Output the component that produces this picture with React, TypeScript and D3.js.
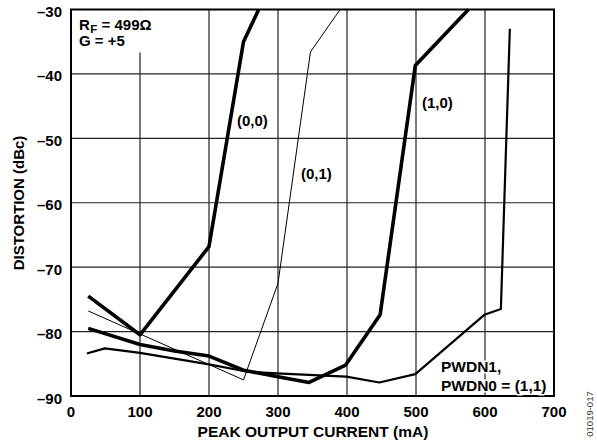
import { useEffect, useRef } from 'react';
import * as d3 from 'd3';

// peak output current (mA) / distortion (dBc) for each PWDN1,PWDN0 setting
const current00 = [25, 100, 200, 250, 272];
const dist00 = [-74.5, -80.5, -66.8, -35, -30];

const current01 = [25, 250, 300, 347, 390];
const dist01 = [-76.8, -87.5, -72.5, -36.6, -30];

const current10 = [25, 100, 150, 200, 225, 250, 300, 345, 398, 448, 499, 576];
const dist10 = [-79.5, -82, -83, -83.8, -84.9, -86, -87, -87.9, -85.2, -77.4, -38.7, -30];

const current11 = [23, 49, 100, 200, 254, 298, 399, 447, 499, 599, 623, 636];
const dist11 = [-83.4, -82.6, -83.3, -85.1, -86.2, -86.5, -87, -87.9, -86.6, -77.4, -76.5, -33];

const xTicks = [0, 100, 200, 300, 400, 500, 600, 700];
const yTicks = [-30, -40, -50, -60, -70, -80, -90];

const W = 597;
const H = 442;
const FONT = '"Liberation Sans", Arial, sans-serif';

export default function App() {
  const svgRef = useRef<SVGSVGElement>(null);

  useEffect(() => {
    if (!svgRef.current) return;
    const svg = d3.select(svgRef.current);
    svg.selectAll('*').remove();

    const x = d3.scaleLinear().domain([0, 700]).range([71, 554]);
    const y = d3.scaleLinear().domain([-90, -30]).range([396, 9.5]);

    const g = svg.append('g');

    // grid
    g.selectAll('.vgrid')
      .data(xTicks.slice(1, -1))
      .join('line')
      .attr('x1', d => x(d))
      .attr('x2', d => x(d))
      .attr('y1', y(-30))
      .attr('y2', y(-90))
      .attr('stroke', '#222')
      .attr('stroke-width', 1.2);

    g.selectAll('.hgrid')
      .data(yTicks.slice(1, -1))
      .join('line')
      .attr('x1', x(0))
      .attr('x2', x(700))
      .attr('y1', d => y(d))
      .attr('y2', d => y(d))
      .attr('stroke', '#222')
      .attr('stroke-width', 1.2);

    // white box behind the annotation
    g.append('rect')
      .attr('x', x(0) + 1)
      .attr('y', y(-30) + 1)
      .attr('width', 86)
      .attr('height', 42)
      .attr('fill', '#fff');

    g.append('rect')
      .attr('x', x(0))
      .attr('y', y(-30))
      .attr('width', x(700) - x(0))
      .attr('height', y(-90) - y(-30))
      .attr('fill', 'none')
      .attr('stroke', '#000')
      .attr('stroke-width', 2);

    const line = d3.line<[number, number]>()
      .x(d => x(d[0]))
      .y(d => y(d[1]));

    const series = [
      { xs: current00, ys: dist00, w: 3.6 },
      { xs: current01, ys: dist01, w: 1 },
      { xs: current10, ys: dist10, w: 3.6 },
      { xs: current11, ys: dist11, w: 2.2 },
    ];

    g.selectAll('.curve')
      .data(series)
      .join('path')
      .attr('d', s => line(s.xs.map((v, i) => [v, s.ys[i]] as [number, number])))
      .attr('fill', 'none')
      .attr('stroke', '#000')
      .attr('stroke-width', s => s.w)
      .attr('stroke-linejoin', 'round');

    // tick labels
    g.selectAll('.xt')
      .data(xTicks)
      .join('text')
      .attr('x', d => x(d))
      .attr('y', 417)
      .attr('text-anchor', 'middle')
      .style('font', `bold 15px ${FONT}`)
      .text(d => d);

    g.selectAll('.yt')
      .data(yTicks)
      .join('text')
      .attr('x', 62)
      .attr('y', d => y(d) + 7.5)
      .attr('text-anchor', 'end')
      .style('font', `bold 15px ${FONT}`)
      .text(d => `\u2013${Math.abs(d)}`);

    svg.append('text')
      .attr('x', 313)
      .attr('y', 437)
      .attr('text-anchor', 'middle')
      .style('font', `bold 15.5px ${FONT}`)
      .text('PEAK OUTPUT CURRENT (mA)');

    svg.append('text')
      .attr('transform', 'translate(24,203) rotate(-90)')
      .attr('text-anchor', 'middle')
      .style('font', `bold 15px ${FONT}`)
      .text('DISTORTION (dBc)');

    // annotations
    const rf = svg.append('text')
      .attr('x', 79)
      .attr('y', 29.5)
      .style('font', `bold 15px ${FONT}`);
    rf.append('tspan').text('R');
    rf.append('tspan').attr('dx', 0.5).attr('dy', 3).style('font-size', '11.5px').text('F');
    rf.append('tspan').attr('dy', -3).text(' = 499\u03A9');

    svg.append('text')
      .attr('x', 79)
      .attr('y', 45.5)
      .style('font', `bold 15px ${FONT}`)
      .text('G = +5');

    const labels = [
      { t: '(0,0)', x: 237, y: 126 },
      { t: '(0,1)', x: 301, y: 179 },
      { t: '(1,0)', x: 422, y: 108 },
    ];
    svg.selectAll('.lbl')
      .data(labels)
      .join('text')
      .attr('x', d => d.x)
      .attr('y', d => d.y)
      .style('font', `bold 15px ${FONT}`)
      .text(d => d.t);

    const pw = svg.append('g')
      .style('font', `bold 15.5px ${FONT}`)
      .attr('paint-order', 'stroke')
      .attr('stroke', '#fff')
      .attr('stroke-width', 3);
    pw.append('text').attr('x', 441).attr('y', 372).attr('fill', '#000').text('PWDN1,');
    pw.append('text').attr('x', 441).attr('y', 391).attr('fill', '#000').text('PWDN0 = (1,1)');

    svg.append('text')
      .attr('transform', 'translate(593,414) rotate(-90)')
      .attr('text-anchor', 'middle')
      .style('font', `9.5px ${FONT}`)
      .attr('fill', '#333')
      .text('01019-017');
  }, []);

  return (
    <div style={{ position: 'absolute', left: 0, top: 0 }}>
      <svg ref={svgRef} width={W} height={H} style={{ display: 'block', background: '#fff' }}></svg>
    </div>
  );
}
